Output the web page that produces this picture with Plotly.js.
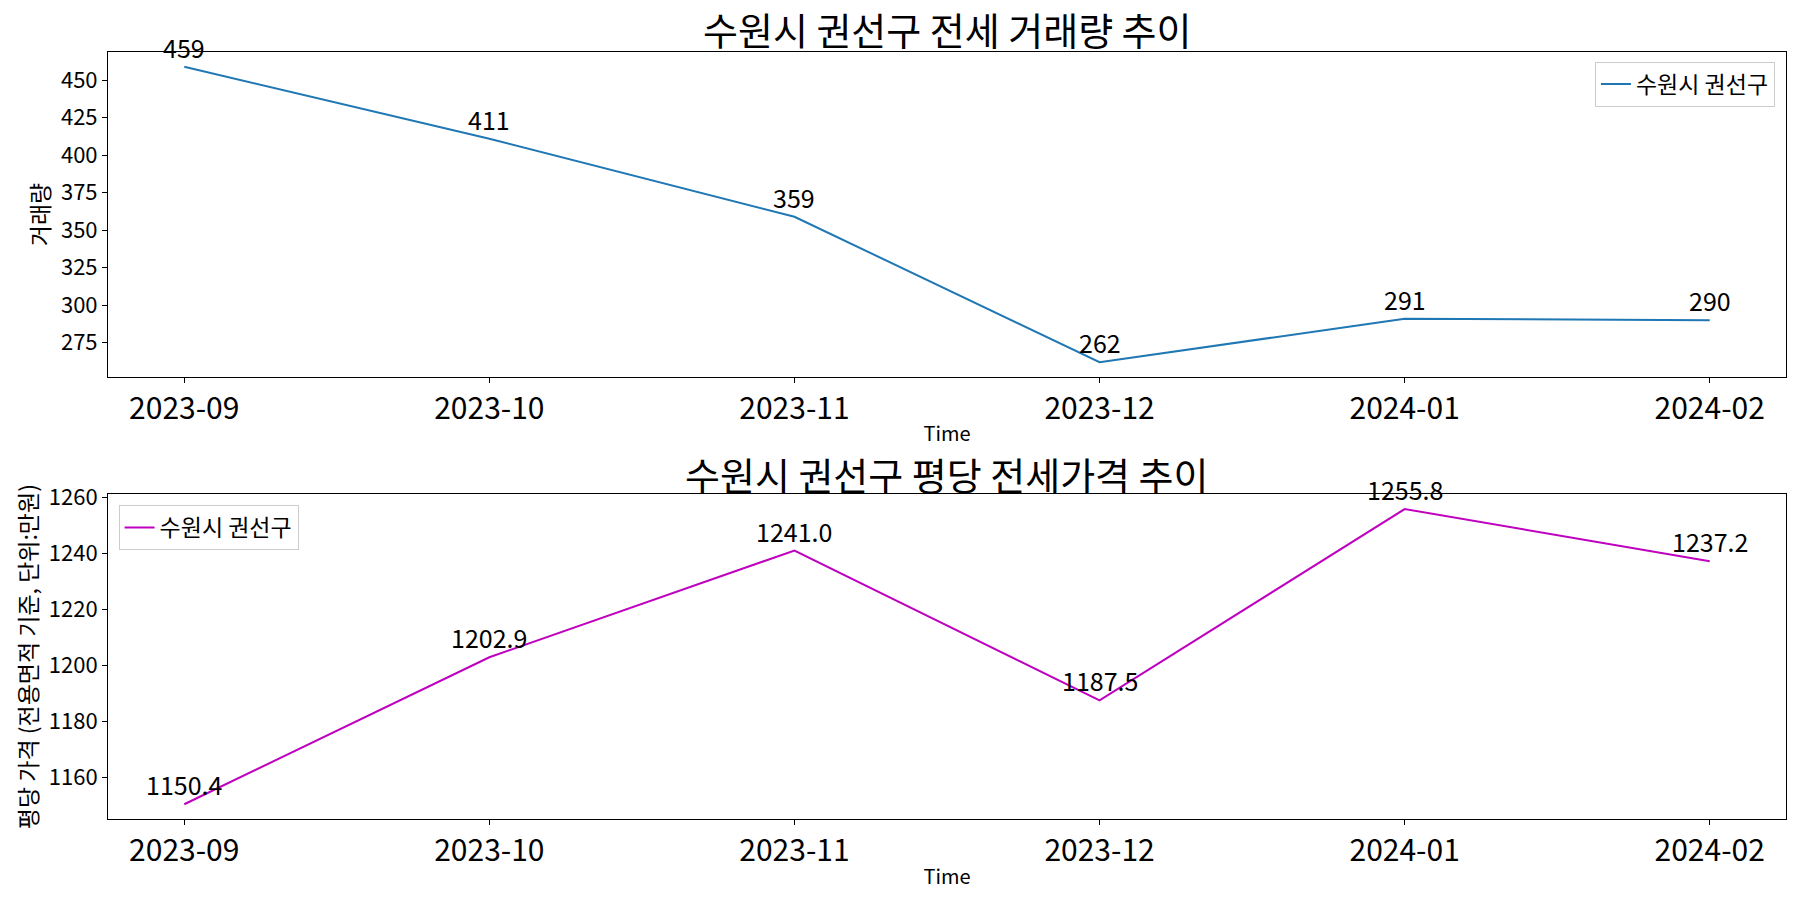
<!DOCTYPE html>
<html>
<head>
<meta charset="utf-8">
<script src="https://cdn.plot.ly/plotly-3.0.1.min.js"></script>
<style>
  body { margin: 0; }
  #chart { width: 1800px; height: 900px; }
</style>
</head>
<body>
<div id="chart"></div>
<script>
var months = ["2023-09", "2023-10", "2023-11", "2023-12", "2024-01", "2024-02"];
var volume = [459, 411, 359, 262, 291, 290];
var pricePerPyeong = [1150.4, 1202.9, 1241.0, 1187.5, 1255.8, 1237.2];
var regionName = "수원시 권선구";

var font = "Noto Sans CJK KR, Noto Sans, sans-serif";

var trace1 = {
  x: months, y: volume,
  type: "scatter", mode: "lines",
  name: regionName,
  line: {color: "#1f77b4", width: 2},
  xaxis: "x", yaxis: "y",
  legend: "legend"
};

var trace2 = {
  x: months, y: pricePerPyeong,
  type: "scatter", mode: "lines",
  name: regionName,
  line: {color: "#bf00bf", width: 2},
  xaxis: "x2", yaxis: "y2",
  legend: "legend2"
};

// value labels above each point
var labels = [];
months.forEach(function (m, i) {
  labels.push({
    x: m, y: volume[i], xref: "x", yref: "y",
    text: String(volume[i]), showarrow: false,
    yanchor: "bottom", yshift: 0,
    font: {size: 25, color: "#000"}
  });
  labels.push({
    x: m, y: pricePerPyeong[i], xref: "x2", yref: "y2",
    text: pricePerPyeong[i].toFixed(1), showarrow: false,
    yanchor: "bottom", yshift: 0,
    font: {size: 25, color: "#000"}
  });
});

// subplot titles (paper coords are relative to the plot area)
labels.push({
  text: "수원시 권선구 전세 거래량 추이", xref: "paper", yref: "paper",
  x: 0.5, y: 1.030, xanchor: "center", yanchor: "middle", showarrow: false,
  font: {size: 38, color: "#000"}
});
labels.push({
  text: "수원시 권선구 평당 전세가격 추이", xref: "paper", yref: "paper",
  x: 0.5, y: 0.4510, xanchor: "center", yanchor: "middle", showarrow: false,
  font: {size: 38, color: "#000"}
});

function xAxis(anchor) {
  return {
    type: "category",
    range: [-0.25, 5.25],
    anchor: anchor,
    showgrid: false, zeroline: false,
    showline: true, mirror: true, linecolor: "#000", linewidth: 1,
    ticks: "outside", ticklen: 5, tickcolor: "#000",
    tickfont: {size: 30, color: "#000"},
    title: {text: "Time", font: {size: 20, color: "#000"}, standoff: 0}
  };
}

function yAxis(anchor, range, dtick, title, standoff) {
  return {
    range: range, dtick: dtick,
    anchor: anchor,
    showgrid: false, zeroline: false,
    showline: true, mirror: true, linecolor: "#000", linewidth: 1,
    ticks: "outside", ticklen: 5, tickcolor: "#000",
    tickfont: {size: 22, color: "#000"},
    title: {text: title, font: {size: 23, color: "#000"}, standoff: standoff}
  };
}

var xa1 = xAxis("y");
xa1.domain = [0, 1];
var xa2 = xAxis("y2");
xa2.domain = [0, 1];

var ya1 = yAxis("x", [252.15, 468.85], 25, "거래량", 4);
ya1.domain = [0.5763, 1];
var ya2 = yAxis("x2", [1145.13, 1261.07], 20, "평당 가격 (전용면적 기준, 단위:만원)", 4);
ya2.domain = [0, 0.4233];

var layout = {
  width: 1800, height: 900,
  font: {family: font, color: "#000"},
  paper_bgcolor: "#fff", plot_bgcolor: "#fff",
  margin: {l: 108, r: 14, t: 52, b: 81},
  showlegend: true,
  xaxis: xa1, yaxis: ya1,
  xaxis2: xa2, yaxis2: ya2,
  legend: {
    x: 0.9934, y: 0.9874, xanchor: "right", yanchor: "top",
    bgcolor: "rgba(255,255,255,0.8)", bordercolor: "#cccccc", borderwidth: 1,
    font: {size: 23, color: "#000"}
  },
  legend2: {
    x: 0.0063, y: 0.4094, xanchor: "left", yanchor: "top",
    bgcolor: "rgba(255,255,255,0.8)", bordercolor: "#cccccc", borderwidth: 1,
    font: {size: 23, color: "#000"}
  },
  annotations: labels
};

Plotly.newPlot("chart", [trace1, trace2], layout, {staticPlot: true});
</script>
</body>
</html>
